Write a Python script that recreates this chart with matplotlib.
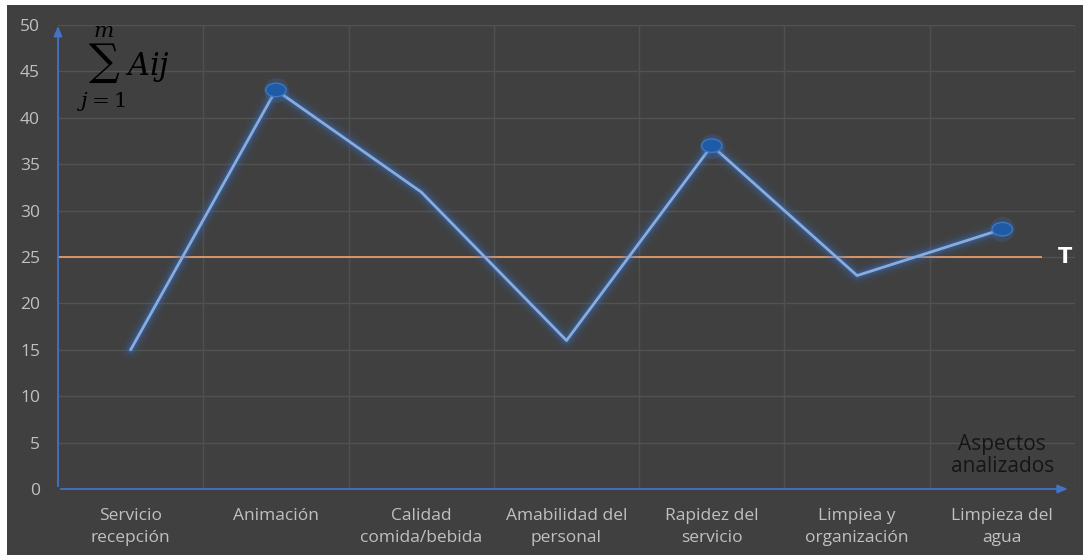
import matplotlib
matplotlib.use("Agg")
import matplotlib.pyplot as plt
from matplotlib.patches import Rectangle, Ellipse

categories = ["Servicio\nrecepción", "Animación", "Calidad\ncomida/bebida",
              "Amabilidad del\npersonal", "Rapidez del\nservicio",
              "Limpiea y\norganización", "Limpieza del\nagua"]
values = [15, 43, 32, 16, 37, 23, 28]
marker_idx = [1, 4, 6]
threshold = 25
yticks = [0, 5, 10, 15, 20, 25, 30, 35, 40, 45, 50]

plt.rcParams['font.family'] = ['Open Sans', 'DejaVu Sans']
plt.rcParams['mathtext.fontset'] = 'dejavuserif'

W, H = 1083, 555
fig = plt.figure(figsize=(W / 100, H / 100), dpi=100, facecolor="white")
fig.patches.append(Rectangle((7 / W, 0), 1 - 7 / W, 1 - 5 / H, transform=fig.transFigure,
                             facecolor="#404040", edgecolor="none", zorder=-10))

ax = fig.add_axes([58 / W, 1 - 489 / H, (1075 - 58) / W, (489 - 25) / H])
ax.set_facecolor("none")
x = list(range(len(categories)))
ax.set_xlim(-0.5, len(categories) - 0.5)
ax.set_ylim(0, 50)

for yv in yticks[1:]:
    ax.axhline(yv, color="#525252", lw=1.0, zorder=0)
for xv in [i + 0.5 for i in x]:
    ax.axvline(xv, color="#505050", lw=1.0, zorder=0)

for s in ax.spines.values():
    s.set_visible(False)

ax.annotate("", xy=(6.47, 0), xytext=(-0.5, 0),
            arrowprops=dict(arrowstyle="-|>,head_length=0.6,head_width=0.25", color="#4472C4", lw=1.3),
            annotation_clip=False, zorder=3)
ax.annotate("", xy=(-0.5, 50.2), xytext=(-0.5, 0),
            arrowprops=dict(arrowstyle="-|>,head_length=0.6,head_width=0.25", color="#4472C4", lw=1.3),
            annotation_clip=False, zorder=3)

ax.hlines(threshold, -0.5, 6.27, color="#F0A36E", lw=1.2, zorder=2)
ax.text(6.38, threshold, "T", color="white", fontsize=15, fontweight="bold",
        va="center", ha="left", family="DejaVu Sans")

for lw, a in [(14, 0.05), (10, 0.08), (7, 0.12), (4.5, 0.2)]:
    ax.plot(x, values, color="#3A78D8", lw=lw, alpha=a, solid_capstyle="round", zorder=4)
ax.plot(x, values, color="#86ACE0", lw=2.0, zorder=5, solid_capstyle="round")

for i in marker_idx:
    ax.plot(x[i], values[i], marker="o", markersize=18, color="#3A78D8", alpha=0.2,
            zorder=5, markeredgewidth=0)
    ax.add_patch(Ellipse((x[i], values[i]), 0.14, 1.45, facecolor="#1F5AA6",
                         edgecolor="#3F77C0", lw=1.0, zorder=6))

ax.set_yticks(yticks)
ax.set_yticklabels([str(v) for v in yticks], color="#C0C0C0", fontsize=12.5)
ax.set_xticks(x)
ax.set_xticklabels(categories, color="#C0C0C0", fontsize=12.5, linespacing=1.45)
ax.tick_params(axis="both", length=0)
ax.tick_params(axis="y", pad=13)
ax.tick_params(axis="x", pad=14)

ax.text(6.0, 1.3, "Aspectos\nanalizados", color="#151515", fontsize=15,
        ha="center", va="bottom", linespacing=1.05)

ax.text(-0.37, 45.3, r"$\sum_{j=1}^{m} Aij$", color="black", fontsize=22,
        ha="left", va="center")

fig.savefig("out.png", dpi=100, facecolor="white")
